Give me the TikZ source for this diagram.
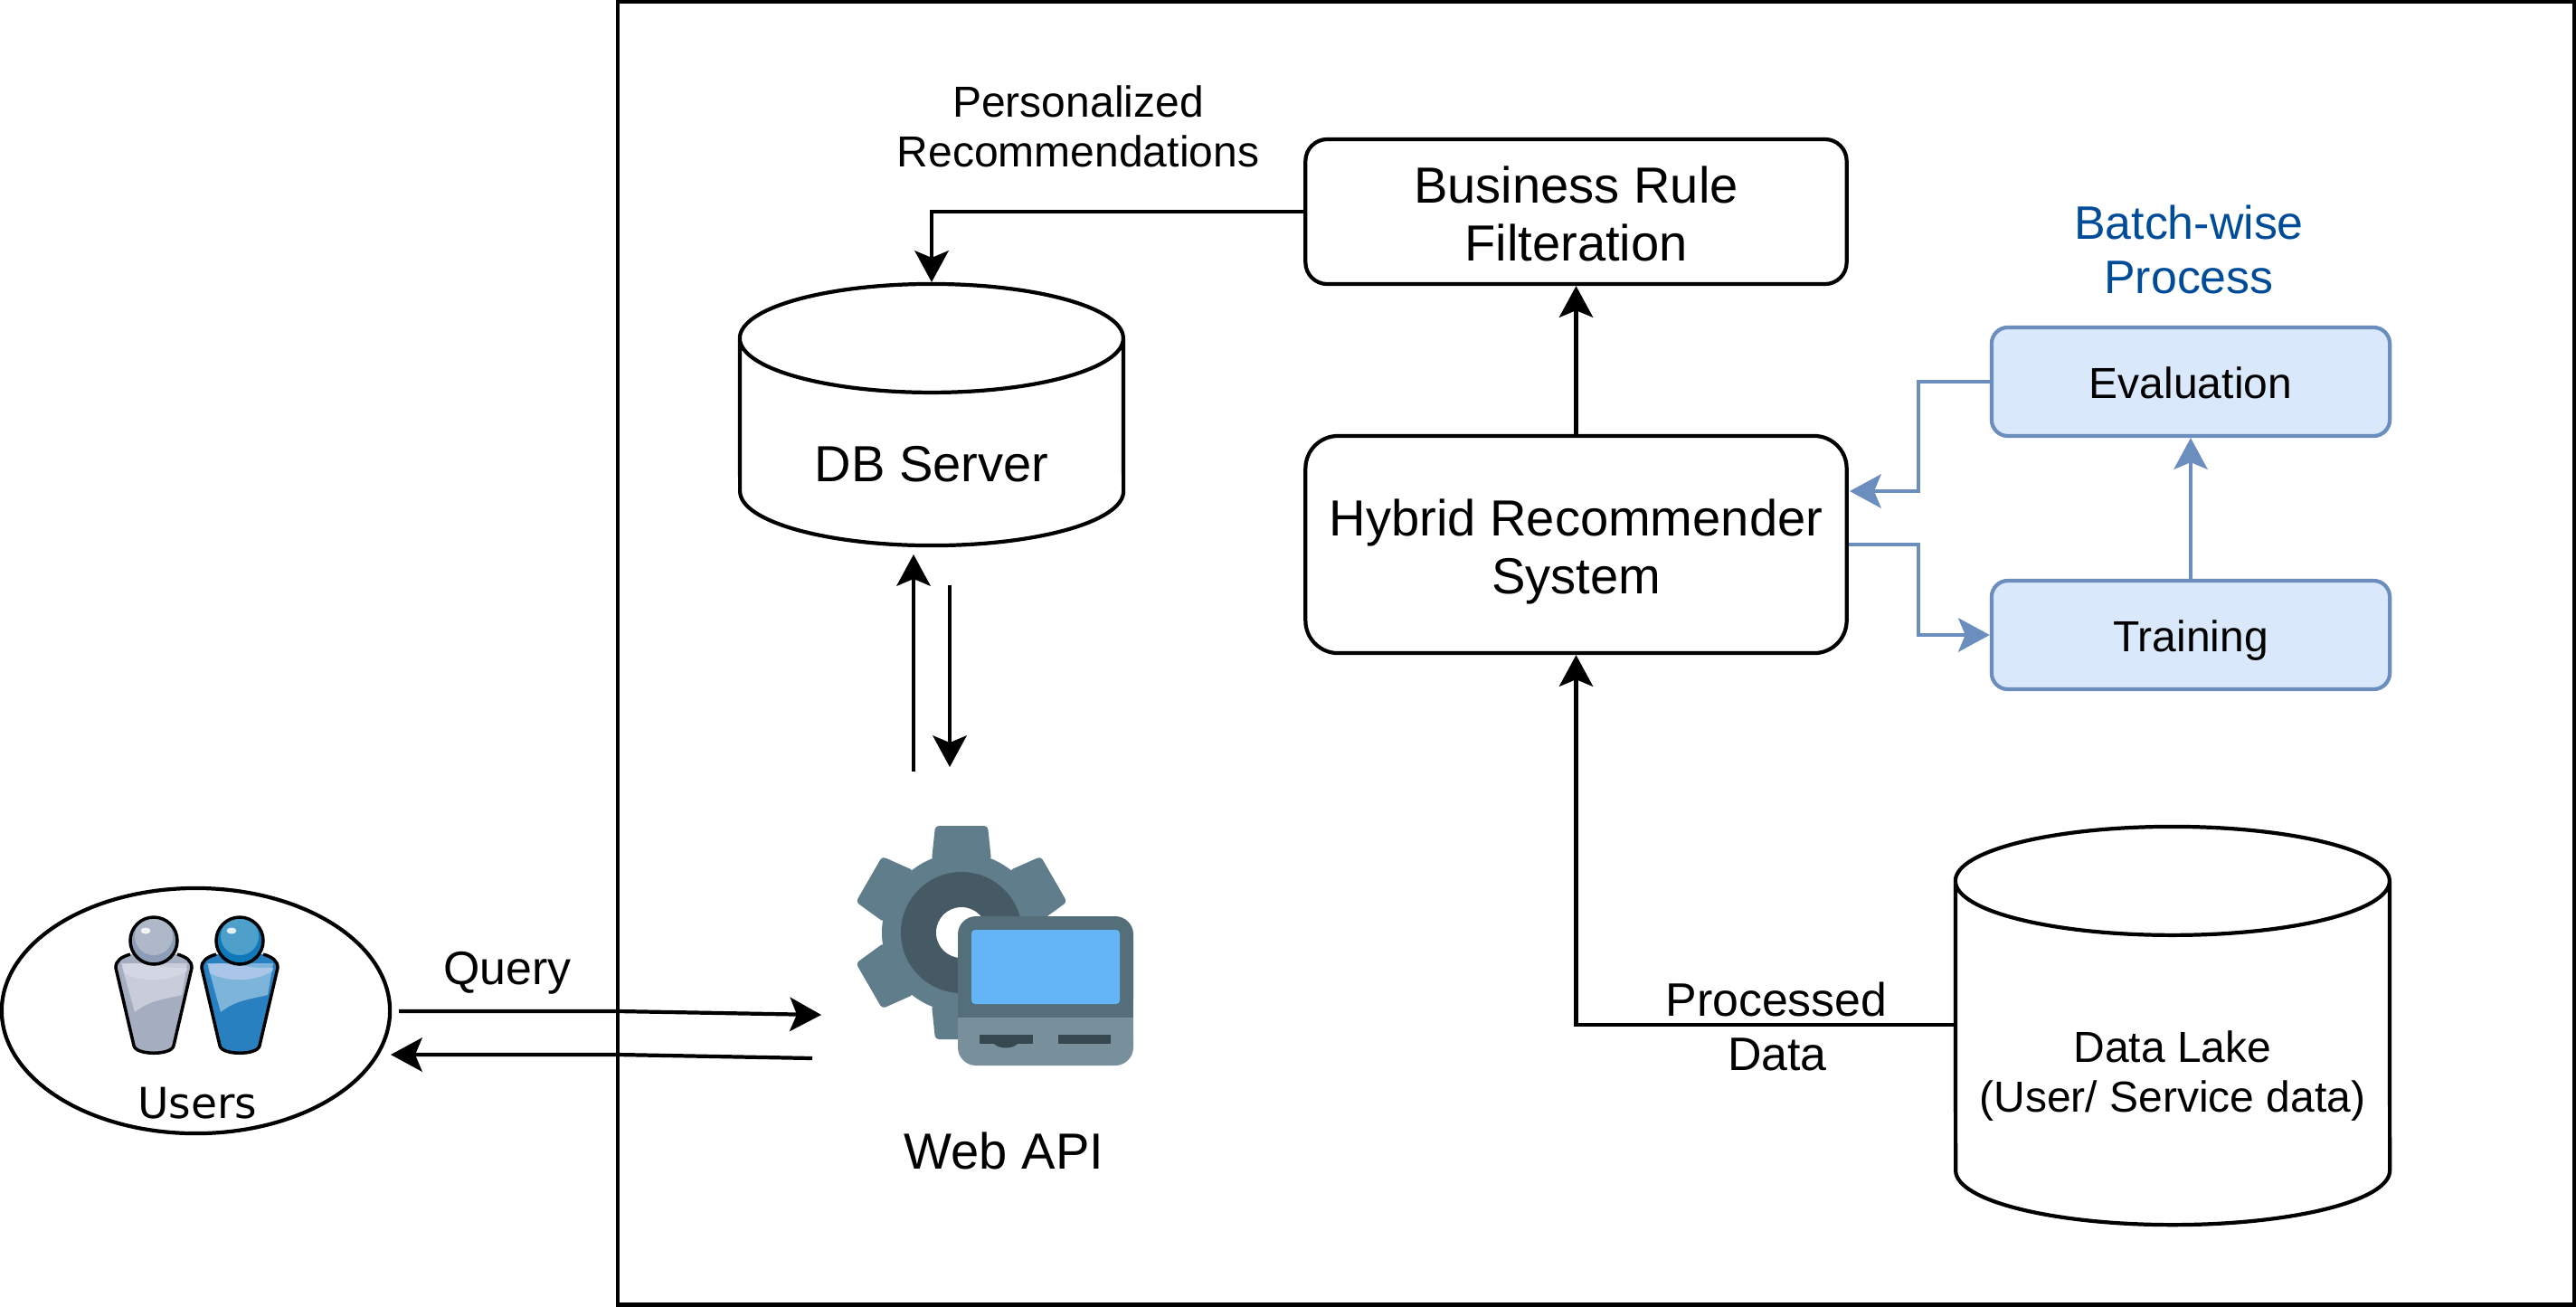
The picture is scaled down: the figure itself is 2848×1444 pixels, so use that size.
\documentclass[tikz,border=0pt]{standalone}
\usepackage{fontspec}
\setmainfont{Liberation Sans}
\newfontfamily\usersfont{DejaVu Sans}
\usepackage{tikz}
\usetikzlibrary{arrows.meta, shapes.geometric}
\definecolor{batchblue}{HTML}{004C99}
\definecolor{batchline}{HTML}{6C8EBF}
\definecolor{batchfill}{HTML}{DAE8FC}
\definecolor{gearfill}{HTML}{607D8B}
\definecolor{gearring}{HTML}{455A64}
\definecolor{laptoptop}{HTML}{546E7A}
\definecolor{laptopbase}{HTML}{78909C}
\definecolor{laptopscreen}{HTML}{64B5F6}
\definecolor{laptopslot}{HTML}{37474F}
\definecolor{greybody}{HTML}{A5AEC0}
\definecolor{greypanel}{HTML}{C8CDD9}
\definecolor{greyband}{HTML}{D2D7E3}
\definecolor{greyhead}{HTML}{8E9DB6}
\definecolor{greyface}{HTML}{AEB8C8}
\definecolor{bluebody}{HTML}{2980C0}
\definecolor{bluepanel}{HTML}{7DB5DA}
\definecolor{blueband}{HTML}{A9C6E8}
\definecolor{bluehead}{HTML}{0F78B8}
\definecolor{blueface}{HTML}{4F9FCB}
\tikzset{
    flowline/.style={line width=1.2pt, -{Stealth[length=0.35cm,width=0.38cm,inset=0.08cm,line width=0pt]}},
    batchflow/.style={flowline, draw=batchline},
    bigtext/.style={font=\fontsize{15.95}{18.2}\selectfont, align=center, inner sep=0pt},
    midtext/.style={font=\fontsize{14.75}{17.07}\selectfont, align=center, inner sep=0pt},
    smalltext/.style={font=\fontsize{13.65}{15.65}\selectfont, align=center, inner sep=0pt},
    mainbox/.style={draw, bigtext, line width=1.2pt, minimum width=5.98cm},
    batchbox/.style={draw=batchline, fill=batchfill, smalltext, line width=1.2pt, rounded corners=0.18cm, minimum width=4.4cm, minimum height=1.2cm, text height=0.36cm, text depth=0pt},
    storage/.style={line width=1.2pt, inner sep=0pt, outer sep=0pt},
    pics/person/.style n args={5}{code={
        % body
        \fill[#1] (-26,15) .. controls (-36,18) and (-42,22) .. (-42,30) -- (-22,116)
            .. controls (-20,127) and (20,127) .. (22,116) -- (42,30)
            .. controls (42,22) and (36,18) .. (26,15) -- cycle;
        \fill[#2] (-36,25) -- (-21,79) .. controls (-5,66) and (10,65) .. (31,60) -- (37,25) -- cycle;
        \fill[#3] (-34,26) -- (-33,36) .. controls (-12,46) and (14,46) .. (36,34) -- (37,30) -- (20,30) -- (-20,25) -- cycle;
        \draw[line width=1pt] (-26,15) .. controls (-36,18) and (-42,22) .. (-42,30) -- (-22,116)
            .. controls (-20,127) and (20,127) .. (22,116) -- (42,30)
            .. controls (42,22) and (36,18) .. (26,15);
        % head
        \fill[#4] (0,0) circle[radius=26];
        \fill[#5] (0,-5) circle[radius=21];
        \fill[white!85!#5] (-9,-11) ellipse[x radius=5.5, y radius=3.5];
        \draw[line width=1pt] (0,0) circle[radius=26];
    }},
}
\newcommand{\geartooth}[1]{\fill[gearfill, rotate=#1, rounded corners=0.04cm] (-33,-80) -- (-29,-118) -- (29,-118) -- (33,-80) -- cycle;}
% name of the node, half its width, depth of its ellipse
\newcommand{\storagedrum}[3]{\draw[storage] ([yshift=-#3*0.01cm]#1.north west) arc[start angle=180, end angle=360, x radius=#2, y radius=#3]
    -- ([yshift=#3*0.01cm]#1.south east) arc[start angle=0, end angle=180, x radius=#2, y radius=#3] -- cycle
    ([yshift=-#3*0.01cm]#1.north west) arc[start angle=180, end angle=0, x radius=#2, y radius=#3];}
\begin{document}
\begin{tikzpicture}[x=0.01cm, y=-0.01cm]

    \useasboundingbox (0,0) rectangle (2848,1444);

    % system frame
    \node[draw, line width=1.2pt, minimum width=21.61cm, minimum height=14.40cm, inner sep=0pt] (frame) at (1764.5,722) {};

    % boxes
    \node[mainbox, rounded corners=0.24cm, minimum height=1.6cm] (business) at (1742.5,234) {\rule{0pt}{0.45cm}Business Rule\\Filteration};
    \node[mainbox, rounded corners=0.36cm, minimum height=2.4cm] (hybrid) at (1742.5,602) {\rule{0pt}{0.57cm}Hybrid Recommender\\System};
    \node[batchbox] (evaluation) at (2422,422) {Evaluation};
    \node[batchbox] (training) at (2422,702) {Training};
    \node[midtext, text=batchblue] (batchlabel) at (2420,276) {Batch-wise\\Process};

    % storage
    \node[storage, minimum width=4.24cm, minimum height=2.89cm] (dbserver) at (1030,458.5) {};
    \storagedrum{dbserver}{212}{60}
    \node[bigtext, anchor=base] (dblabel) at (1030,532) {DB Server};
    \node[storage, minimum width=4.8cm, minimum height=4.4cm] (datalake) at (2402,1134) {};
    \storagedrum{datalake}{240}{60}
    \node[smalltext] (lakelabel) at (2402,1190) {Data Lake\\(User/ Service data)};

    % users
    \node[draw, ellipse, line width=1.2pt, minimum width=4.29cm, minimum height=2.71cm, inner sep=0pt] (users) at (216.5,1117.5) {};
    \pic at (170,1040) {person={greybody}{greypanel}{greyband}{greyhead}{greyface}};
    \pic at (265,1040) {person={bluebody}{bluepanel}{blueband}{bluehead}{blueface}};
    \node[font=\usersfont\fontsize{13.4}{16}\selectfont, anchor=base, inner sep=0pt] (userslabel) at (218,1236) {Users};

    % gear
    \coordinate (gear) at (1063,1031);
    \begin{scope}[shift={(gear)}]
        \geartooth{0}
        \geartooth{60}
        \geartooth{120}
        \geartooth{180}
        \geartooth{240}
        \geartooth{300}
        \fill[gearfill] (0,0) circle[radius=88];
        \fill[gearring] (0,0) circle[radius=67];
        \fill[white] (0,0) circle[radius=28];
    \end{scope}

    % laptop
    \fill[laptoptop, rounded corners=0.2cm] (1059,1125) -- (1059,1013) -- (1253,1013) -- (1253,1125) -- cycle;
    \fill[laptopbase, rounded corners=0.2cm] (1059,1125) -- (1059,1178) -- (1253,1178) -- (1253,1125) -- cycle;
    \fill[laptoptop] (1059,1105) rectangle (1253,1125);
    \fill[laptopbase] (1059,1125) rectangle (1253,1145);
    \fill[laptopscreen, rounded corners=0.04cm] (1074,1028) rectangle (1238,1110);
    \fill[laptopslot] (1083,1144) rectangle (1142,1154);
    \fill[laptopslot] (1170,1144) rectangle (1228,1154);
    \fill[laptopslot] (1099,1154) .. controls (1105,1160) and (1119,1160) .. (1125,1154) -- cycle;
    \node[bigtext, anchor=base] (webapi) at (1110,1292) {Web API};

    % labels
    \node[smalltext] (perslabel) at (1192,140) {Personalized\\Recommendations};
    \node[midtext, anchor=base] (querylabel) at (561,1088) {Query};
    \node[midtext, anchor=base] (processedlabel) at (1964,1123) {Processed};
    \node[midtext, anchor=base] (datalabel) at (1965,1183) {Data};

    % connectors
    \coordinate (lakeport) at (2162,1133);
    \draw[flowline, shorten >=0.02cm] (business.west) -| (dbserver.north);
    \draw[flowline] (hybrid.north) -- (business.south);
    \draw[flowline] (lakeport) -| (hybrid.south);

    % batch loop
    \coordinate (batchturn) at (2121,422);
    \coordinate (hybridin) at (2045,543);
    \coordinate (hybridout) at (2044,602);
    \draw[batchflow] (evaluation.west) -- (batchturn) |- (hybridin);
    \draw[batchflow] (hybridout) -| (batchturn |- training.west) -- (training.west);
    \draw[batchflow] (training.north) -- (evaluation.south);

    % free ends near the web api
    \coordinate (apitop) at (1010,853);
    \coordinate (dbbottom) at (1010,613);
    \coordinate (dbback) at (1050,647);
    \coordinate (apiback) at (1050,848);
    \draw[flowline] (apitop) -- (dbbottom);
    \draw[flowline] (dbback) -- (apiback);
    \coordinate (queryfrom) at (441,1118);
    \coordinate (queryknee) at (684,1118);
    \coordinate (queryto) at (908,1122);
    \draw[flowline] (queryfrom) -- (queryknee) -- (queryto);
    \coordinate (replyfrom) at (898,1170);
    \coordinate (replyknee) at (684,1166);
    \coordinate (replyto) at (432,1166);
    \draw[flowline] (replyfrom) -- (replyknee) -- (replyto);

\end{tikzpicture}
\end{document}
